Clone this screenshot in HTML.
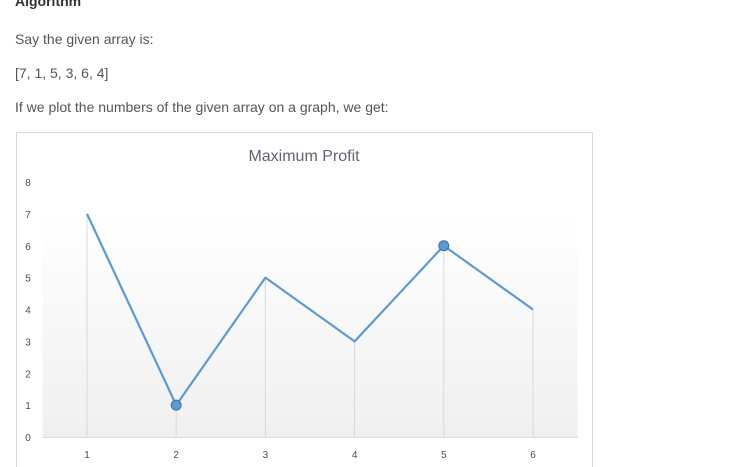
<!DOCTYPE html>
<html><head><meta charset="utf-8"><style>
body{margin:0;width:743px;height:467px;overflow:hidden;background:#fff;font-family:"Liberation Sans",sans-serif;color:#555;position:relative}
.t{position:absolute;left:15px;font-size:14px;white-space:nowrap}
</style></head><body>
<div class="t" style="top:-7px;font-weight:bold;color:#333">Algorithm</div>
<div class="t" style="top:31px">Say the given array is:</div>
<div class="t" style="top:65px">[7, 1, 5, 3, 6, 4]</div>
<div class="t" style="top:99px">If we plot the numbers of the given array on a graph, we get:</div>
<svg id="chart" width="743" height="467" style="position:absolute;left:0;top:0">
<defs><linearGradient id="g" x1="0" y1="0" x2="0" y2="1"><stop offset="0" stop-color="#fff"/><stop offset="1" stop-color="#f0f0f0"/></linearGradient></defs>
<rect x="16.5" y="132.5" width="576" height="340" fill="#fff" stroke="#d9d9d9"/>
<text x="304" y="161" text-anchor="middle" font-size="16" fill="#5f6670" font-family="Liberation Sans,sans-serif">Maximum Profit</text>
</svg>
<script>
const categories=[1,2,3,4,5,6];
const values=[7,1,5,3,6,4];
const yTicks=[0,1,2,3,4,5,6,7,8];
const highlighted=[1,4];
const svg=document.getElementById('chart');
const NS='http://www.w3.org/2000/svg';
const left=42.4,right=577.6,y0=437,yTop=182,yMax=8;
const bw=(right-left)/categories.length;
const xs=i=>left+bw*(i+0.5);
const ys=v=>y0-(y0-yTop)*v/yMax;
function mk(t,a){const e=document.createElementNS(NS,t);for(const k in a)e.setAttribute(k,a[k]);svg.appendChild(e);return e;}
const bg=mk('rect',{x:left,y:212,width:right-left,height:y0-212,fill:'url(#g)'});


yTicks.forEach(t=>{const e=mk('text',{x:28,y:ys(t)+4,'text-anchor':'middle','font-size':'10',fill:'#4d4d4d'});e.textContent=t;

});
values.forEach((v,i)=>{const l=mk('line',{x1:xs(i),x2:xs(i),y1:ys(v),y2:y0,stroke:'#d9d9d9','stroke-width':1});

});
const ax=mk('line',{x1:left,x2:right,y1:y0+0.5,y2:y0+0.5,stroke:'#d9d9d9','stroke-width':1});


categories.forEach((c,i)=>{const e=mk('text',{x:xs(i),y:y0+21,'text-anchor':'middle','font-size':'10',fill:'#4d4d4d'});e.textContent=c;

});
const pl=mk('polyline',{points:values.map((v,i)=>xs(i)+','+ys(v)).join(' '),fill:'none',stroke:'#5b9bd5','stroke-width':2.2,'stroke-linejoin':'round'});


highlighted.forEach(i=>{const c=mk('circle',{cx:xs(i),cy:ys(values[i]),r:5,fill:'#5b9bd5',stroke:'#41719c','stroke-width':1});

});
</script>
</body></html>
